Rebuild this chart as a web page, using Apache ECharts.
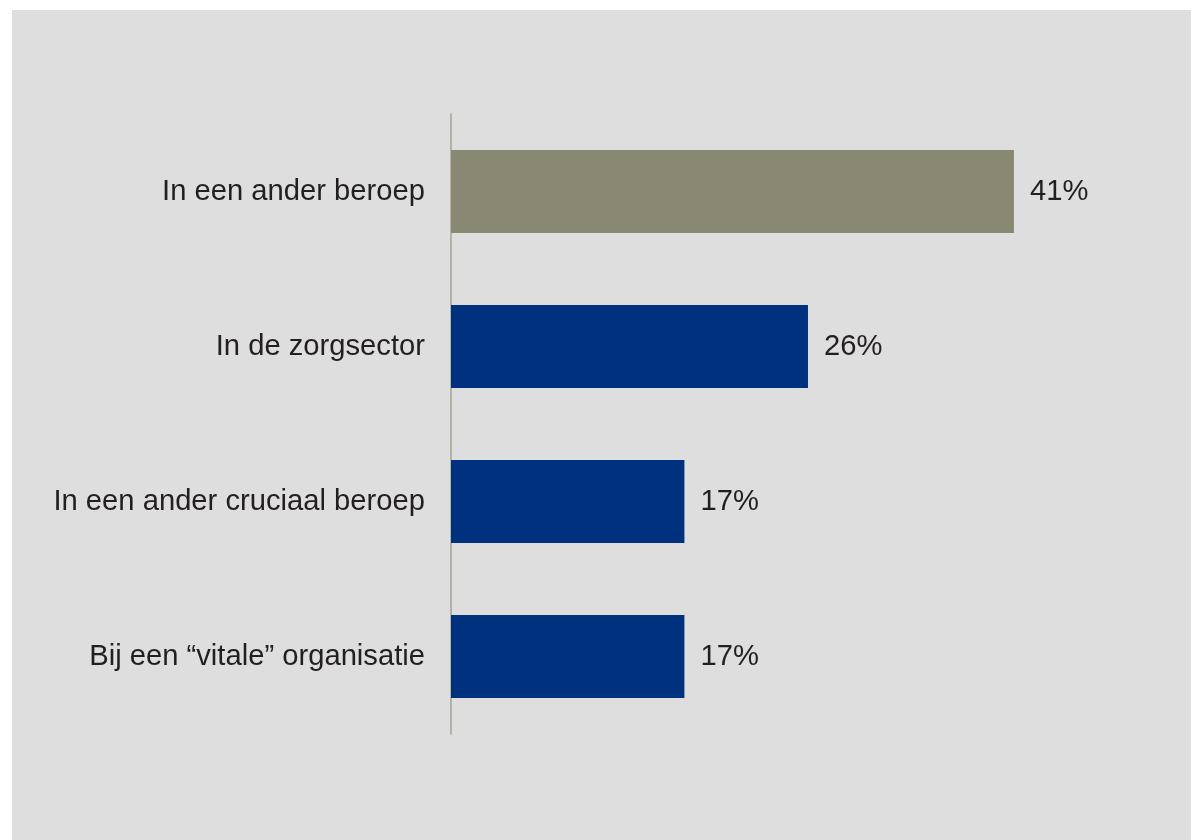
<!DOCTYPE html>
<html>
<head>
<meta charset="utf-8">
<script src="https://cdn.jsdelivr.net/npm/echarts@6/dist/echarts.min.js"></script>
<style>
  html, body { margin: 0; padding: 0; background: #ffffff; }
  #chart { position: absolute; left: 12px; top: 10px; width: 1179px; height: 830px; background: #dedede; }
</style>
</head>
<body>
<div id="chart"></div>
<script>
// categories top to bottom
const categories = [
  'In een ander beroep',
  'In de zorgsector',
  'In een ander cruciaal beroep',
  'Bij een \u201cvitale\u201d organisatie'
];
const values = [41, 26, 17, 17];
const barColors = ['#898873', '#00317f', '#00317f', '#00317f'];

const chart = echarts.init(document.getElementById('chart'));
chart.setOption({
  animation: false,
  grid: { left: 439, top: 104, bottom: 106, right: 53.5 },
  xAxis: {
    type: 'value',
    min: 0,
    max: 50,
    show: false
  },
  yAxis: {
    type: 'category',
    inverse: true,
    data: categories,
    axisLine: { show: true, lineStyle: { color: '#b3b3a5', width: 2 } },
    axisTick: { show: false },
    axisLabel: {
      margin: 26,
      fontFamily: '"Liberation Sans", Arial, sans-serif',
      fontSize: 29.2,
      color: '#231f20'
    }
  },
  series: [{
    type: 'bar',
    barWidth: 83,
    data: values.map((v, i) => ({ value: v, itemStyle: { color: barColors[i] } })),
    label: {
      show: true,
      position: 'right',
      distance: 16,
      formatter: '{c}%',
      fontFamily: '"Liberation Sans", Arial, sans-serif',
      fontSize: 29.2,
      color: '#231f20'
    }
  }]
});
</script>
</body>
</html>
